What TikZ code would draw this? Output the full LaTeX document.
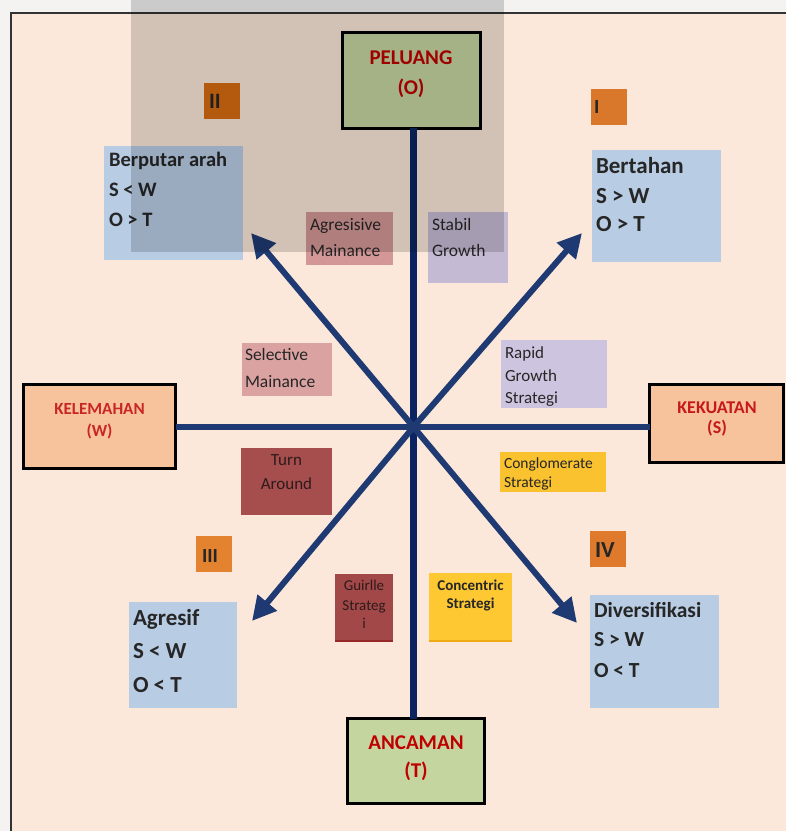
\documentclass[tikz,border=0pt]{standalone}
\usepackage{fontspec}
\setmainfont{Carlito}
\usetikzlibrary{arrows.meta}
\definecolor{peach}{HTML}{FBE8DA}
\definecolor{outer}{HTML}{F4F3F2}
\definecolor{keyred}{HTML}{C00000}
\definecolor{navyv}{HTML}{0B2461}
\definecolor{navyd}{HTML}{1F3A72}
\definecolor{qblue}{HTML}{B8CCE4}
\definecolor{keygreen}{HTML}{C4D59F}
\definecolor{keypeach}{HTML}{F7C39C}
\definecolor{pinkA}{HTML}{D39797}
\definecolor{pinkS}{HTML}{DBA2A2}
\definecolor{lavS}{HTML}{C5BAD3}
\definecolor{lavR}{HTML}{CDC5DF}
\definecolor{redT}{HTML}{A64E4E}
\definecolor{redG}{HTML}{A24848}
\definecolor{redGline}{HTML}{962828}
\definecolor{yelC}{HTML}{F9C22E}
\definecolor{yelK}{HTML}{FDC832}
\definecolor{yelKline}{HTML}{F0AA14}
\definecolor{numII}{HTML}{D76C12}
\definecolor{numI}{HTML}{D9772A}
\definecolor{numIII}{HTML}{E3822F}
\definecolor{numIV}{HTML}{DF7A2C}
\definecolor{txt}{HTML}{262626}
\definecolor{darkredtxt}{HTML}{2E1A1A}
\begin{document}
\begin{tikzpicture}[x=1pt,y=-1pt,
  every node/.style={inner sep=0pt,outer sep=0pt},
  fbox/.style={rectangle,anchor=north west,draw=none,fill=#1},
  keybox/.style={rectangle,anchor=north west,draw=black,line width=3pt,fill=#1},
  keytext/.style={text=keyred,font=\bfseries\fontsize{#1}{#1}\selectfont,anchor=base},
  qtext/.style={text=txt,font=\bfseries\fontsize{#1}{#1}\selectfont,anchor=base west},
  stext/.style={text=txt,font=\fontsize{#1}{#1}\selectfont,anchor=base west},
  ctext/.style={text=txt,font=\fontsize{#1}{#1}\selectfont,anchor=base},
  numbox/.style={rectangle,anchor=north west,fill=#1,minimum width=36,minimum height=36},
  numtext/.style={text=txt,font=\bfseries\fontsize{#1}{#1}\selectfont,anchor=base west},
  axisv/.style={draw=navyv,line width=6.5pt},
  axish/.style={draw=navyd,line width=6.5pt},
  diag/.style={draw=navyd,line width=6pt,-{Triangle[length=24pt,width=24pt]}}
]
\useasboundingbox (0,0) rectangle (786,831);
% background and frame
\fill[outer] (0,0) rectangle (786,831);
\fill[peach] (11,13) rectangle (786,831);
\draw[black!80,line width=1.5pt] (11,831) -- (11,13) -- (786,13);

% key boxes
\node[keybox=keygreen,minimum width=138,minimum height=96] (pel) at (342,32) {};
\node[keybox=keygreen,minimum width=137,minimum height=85] (anc) at (347.5,718.5) {};
\node[keybox=keypeach,minimum width=152,minimum height=84] (kel) at (23.5,384.5) {};
\node[keybox=keypeach,minimum width=134,minimum height=78] (kek) at (649.5,384.5) {};

% axes
\coordinate (c) at (413.5,427);
\draw[axisv] (pel.south -| c) -- (anc.north -| c);
\draw[axish] (kel.east |- c) -- (kek.west |- c);
\coordinate (tq2) at (251,233);
\coordinate (tq1) at (582,233);
\coordinate (tq3) at (252,621);
\coordinate (tq4) at (577,623);
\draw[diag] (c) -- (tq2);
\draw[diag] (c) -- (tq1);
\draw[diag] (c) -- (tq3);
\draw[diag] (c) -- (tq4);

% key texts
\node[keytext=21] (pelA) at (411,64) {PELUANG};
\node[keytext=21] (pelB) at (411,94) {(O)};
\node[keytext=21] (ancA) at (416,749) {ANCAMAN};
\node[keytext=21] (ancB) at (416,777) {(T)};
\node[keytext=17,text=keyred!85!white] (kelA) at (99.5,414) {KELEMAHAN};
\node[keytext=17,text=keyred!85!white] (kelB) at (99.5,436) {(W)};
\node[keytext=18,text=keyred!90!white] (kekA) at (717,413) {KEKUATAN};
\node[keytext=18,text=keyred!90!white] (kekB) at (717,433) {(S)};

% quadrant numbers
\node[numbox=numII] (n2b) at (204,83) {};
\node[numtext=22] (n2) at (209,108) {II};
\node[numbox=numI] (n1b) at (591,89) {};
\node[numtext=20] (n1) at (594,113) {I};
\node[numbox=numIII] (n3b) at (196,536) {};
\node[numtext=20] (n3) at (202,562) {III};
\node[numbox=numIV] (n4b) at (590,531) {};
\node[numtext=23] (n4) at (595,557) {IV};

% quadrant boxes
\node[fbox=qblue,minimum width=139,minimum height=114] (q2) at (104,146) {};
\node[qtext=20.5] (q2a) at (109,166) {Berputar arah};
\node[qtext=20.5] (q2b) at (109,196) {S < W};
\node[qtext=20.5] (q2c) at (109,226) {O > T};
\node[fbox=qblue,minimum width=129,minimum height=112] (q1) at (592,150) {};
\node[qtext=23] (q1a) at (596,173) {Bertahan};
\node[qtext=23] (q1b) at (596,203) {S > W};
\node[qtext=23] (q1c) at (596,231) {O > T};
\node[fbox=qblue,minimum width=108,minimum height=106] (q3) at (129,602) {};
\node[qtext=23] (q3a) at (133,625) {Agresif};
\node[qtext=23] (q3b) at (133,658) {S < W};
\node[qtext=23] (q3c) at (133,692) {O < T};
\node[fbox=qblue,minimum width=129,minimum height=113] (q4) at (590,595) {};
\node[qtext=21.5] (q4a) at (594,617) {Diversifikasi};
\node[qtext=21.5] (q4b) at (594,646) {S > W};
\node[qtext=21.5] (q4c) at (594,677) {O < T};

% strategy boxes
\node[fbox=pinkA,minimum width=87,minimum height=53] (sa) at (306,212) {};
\node[stext=17.5] (saA) at (310,230) {Agresisive};
\node[stext=17.5] (saB) at (310,256) {Mainance};
\node[fbox=lavS,minimum width=80,minimum height=71] (sg) at (428,212) {};
\node[stext=17.5] (sgA) at (432,230) {Stabil};
\node[stext=17.5] (sgB) at (432,256) {Growth};
\node[fbox=pinkS,minimum width=90,minimum height=53] (ss) at (242,343) {};
\node[stext=17.5] (ssA) at (245,360) {Selective};
\node[stext=17.5] (ssB) at (245,387) {Mainance};
\node[fbox=lavR,minimum width=106,minimum height=68] (sr) at (501,340) {};
\node[stext=17] (srA) at (505,358) {Rapid};
\node[stext=17] (srB) at (505,381) {Growth};
\node[stext=17] (srC) at (505,403) {Strategi};
\node[fbox=redT,minimum width=91,minimum height=67] (st) at (241,448) {};
\node[ctext=17,text=darkredtxt] (stA) at (286.5,465) {Turn};
\node[ctext=17,text=darkredtxt] (stB) at (286.5,489) {Around};
\node[fbox=yelC,minimum width=106,minimum height=40] (sc) at (500,452) {};
\node[stext=15.5] (scA) at (504,468) {Conglomerate};
\node[stext=15.5] (scB) at (504,487) {Strategi};
\node[fbox=redG,minimum width=58,minimum height=68] (sgu) at (335,574) {};
\fill[redGline] (sgu.south west) rectangle ++(58,-2);
\node[ctext=15,text=darkredtxt] (sguA) at (364,590) {Guirlle};
\node[ctext=15,text=darkredtxt] (sguB) at (364,610) {Strateg};
\node[ctext=15,text=darkredtxt] (sguC) at (364,628) {i};
\node[fbox=yelK,minimum width=83,minimum height=69] (sk) at (429,573) {};
\fill[yelKline] (sk.south west) rectangle ++(83,-2);
\node[ctext=15,font=\bfseries\fontsize{15}{15}\selectfont] (skA) at (470.5,590) {Concentric};
\node[ctext=15,font=\bfseries\fontsize{15}{15}\selectfont] (skB) at (470.5,608) {Strategi};

% darker tinted band at the top
\fill[black,opacity=0.16] (131,0) rectangle (504,252);
\end{tikzpicture}
\end{document}
